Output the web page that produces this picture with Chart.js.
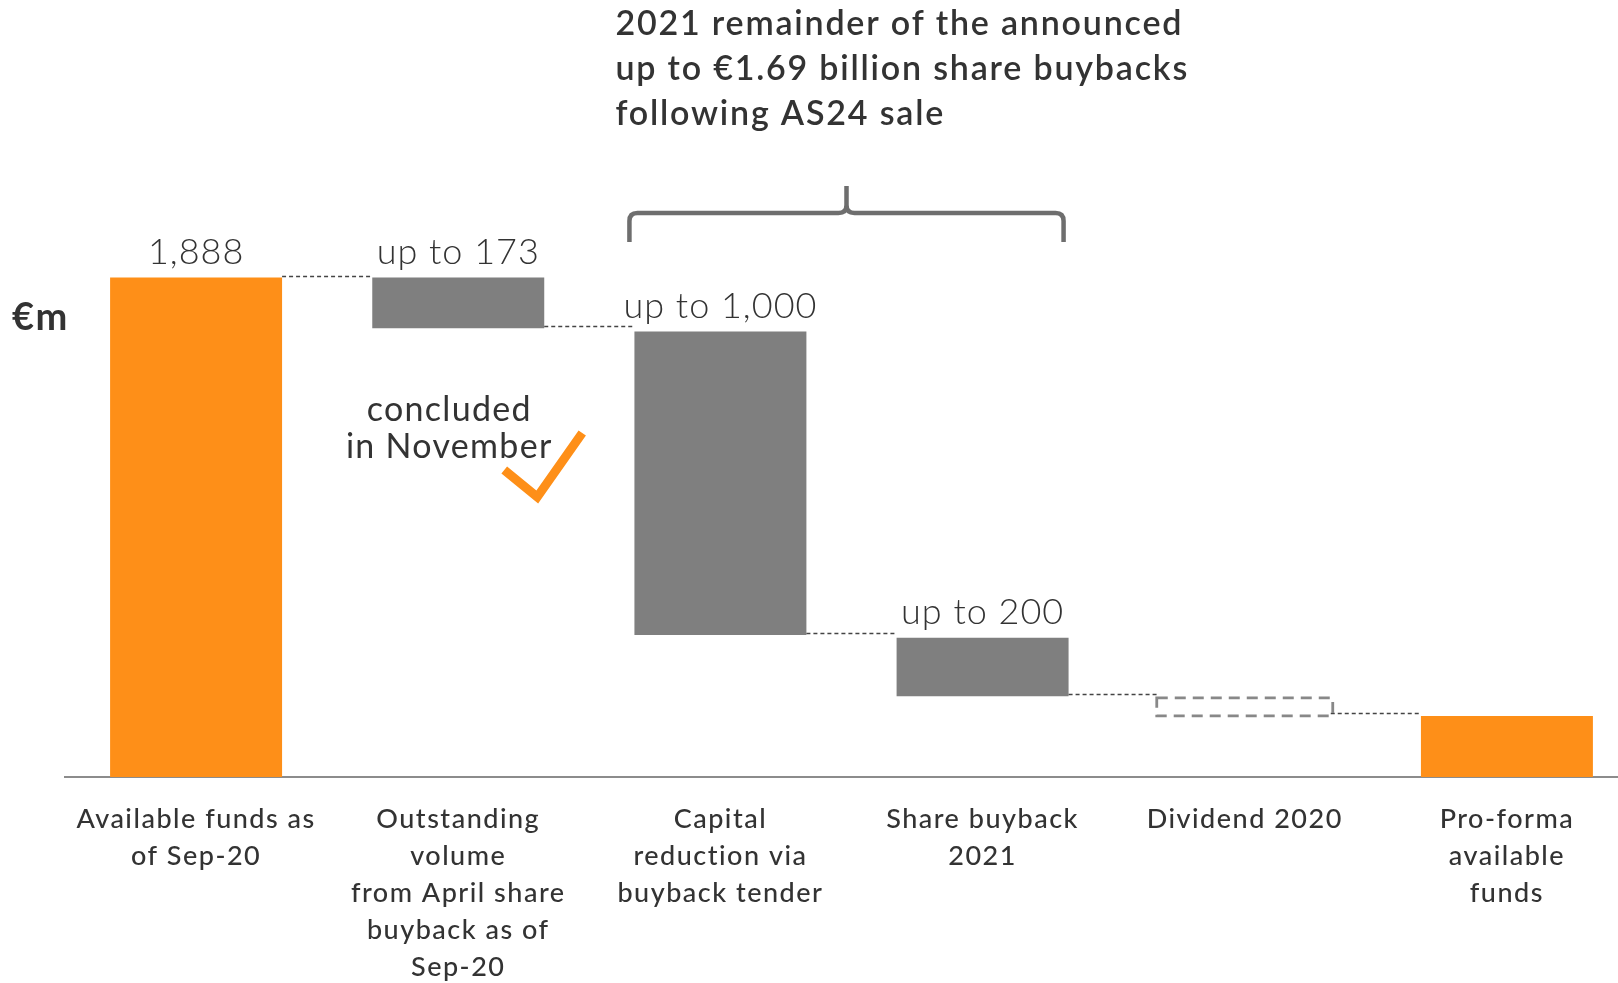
<!DOCTYPE html>
<html>
<head>
<meta charset="utf-8">
<script src="https://cdn.jsdelivr.net/npm/chart.js@4.4.1/dist/chart.umd.min.js"></script>
<style>
  html, body { margin: 0; padding: 0; background: #fff; overflow: hidden; }
  canvas { display: block; }
</style>
</head>
<body>
<canvas id="chart" width="1640" height="983"></canvas>
<script>
// categories (multi-line axis labels)
const categories = [
  ['Available funds as', 'of Sep-20'],
  ['Outstanding', 'volume', 'from April share', 'buyback as of', 'Sep-20'],
  ['Capital', 'reduction via', 'buyback tender'],
  ['Share buyback', '2021'],
  ['Dividend 2020'],
  ['Pro-forma', 'available', 'funds']
];
// bar tops / bottoms as drawn on the slide (it is not drawn to scale)
const barHigh = [1888, 1888, 1684, 526, 303, 231];
const barLow = [0, 1697, 537, 305, 235, 0];
const barKind = ['total', 'step', 'step', 'step', 'open', 'total'];
const valueLabels = ['1,888', 'up to 173', 'up to 1,000', 'up to 200', '', ''];
const titleLines = ['2021 remainder of the announced', 'up to €1.69 billion share buybacks', 'following AS24 sale'];
const noteLines = ['concluded', 'in November'];
const unitLabel = '€m';

const ORANGE = '#FE8F18';
const GREY = '#7F7F7F';
const TEXT = '#333333';

const barColors = barKind.map(k => k === 'total' ? ORANGE : (k === 'step' ? GREY : 'rgba(0,0,0,0)'));

const extras = {
  id: 'extras',
  beforeDraw(chart) {
    chart.ctx.letterSpacing = '1.5px';
  },
  afterDatasetsDraw(chart) {
    const ctx = chart.ctx;
    const y = chart.scales.y;
    const bars = chart.getDatasetMeta(0).data;
    const left = b => b.x - b.width / 2;
    const right = b => b.x + b.width / 2;

    ctx.save();
    // connectors between bars
    ctx.strokeStyle = '#444';
    ctx.lineWidth = 1.3;
    ctx.setLineDash([4, 3]);
    for (let i = 0; i < bars.length - 1; i++) {
      const level = barKind[i] === 'total' ? barHigh[i] : barLow[i];
      const py = Math.round(y.getPixelForValue(level)) - 1.5;
      ctx.beginPath();
      ctx.moveTo(right(bars[i]), py);
      ctx.lineTo(left(bars[i + 1]), py);
      ctx.stroke();
    }

    // open (dashed) bar
    bars.forEach((b, i) => {
      if (barKind[i] !== 'open') return;
      ctx.strokeStyle = '#888';
      ctx.lineWidth = 2.8;
      ctx.setLineDash([11, 7]);
      ctx.strokeRect(left(b) - 2, b.y + 1, b.width + 4, b.base - b.y);
    });
    ctx.setLineDash([]);

    // value labels
    ctx.fillStyle = TEXT;
    ctx.textAlign = 'center';
    ctx.textBaseline = 'middle';
    ctx.font = '300 36px Lato';
    ctx.letterSpacing = '1px';
    bars.forEach((b, i) => {
      if (valueLabels[i]) ctx.fillText(valueLabels[i], b.x, b.y - 25);
    });

    // brace over the 2021 buybacks
    const b3 = bars[2], b4 = bars[3];
    const bx0 = left(b3) - 5, bx1 = right(b4) - 5, bm = (bx0 + bx1) / 2;
    const by = 213, bLow = 242, bTop = 186, r = 8;
    ctx.strokeStyle = '#6e6e6e';
    ctx.lineWidth = 4.5;
    ctx.lineCap = 'butt';
    ctx.beginPath();
    ctx.moveTo(bx0, bLow);
    ctx.lineTo(bx0, by + r);
    ctx.quadraticCurveTo(bx0, by, bx0 + r, by);
    ctx.lineTo(bm - r, by);
    ctx.quadraticCurveTo(bm, by, bm, by - r);
    ctx.lineTo(bm, bTop);
    ctx.moveTo(bm, by - r);
    ctx.quadraticCurveTo(bm, by, bm + r, by);
    ctx.lineTo(bx1 - r, by);
    ctx.quadraticCurveTo(bx1, by, bx1, by + r);
    ctx.lineTo(bx1, bLow);
    ctx.stroke();

    // title
    ctx.textAlign = 'left';
    ctx.textBaseline = 'middle';
    ctx.font = '600 34px Lato';
    ctx.letterSpacing = '1.8px';
    titleLines.forEach((t, i) => ctx.fillText(t, left(b3) - 19, 24 + i * 45));

    // note under second bar
    const b2 = bars[1];
    ctx.textAlign = 'center';
    ctx.textBaseline = 'alphabetic';
    ctx.font = '400 34px Lato';
    ctx.letterSpacing = '1.3px';
    noteLines.forEach((t, i) => ctx.fillText(t, b2.x - 9, 421 + i * 37));

    // check mark
    const cx = right(b2);
    ctx.strokeStyle = ORANGE;
    ctx.lineWidth = 9;
    ctx.lineJoin = 'miter';
    ctx.beginPath();
    ctx.moveTo(cx - 40, 470);
    ctx.lineTo(cx - 7, 497);
    ctx.lineTo(cx + 38, 433);
    ctx.stroke();

    // unit
    ctx.fillStyle = TEXT;
    ctx.textAlign = 'left';
    ctx.textBaseline = 'middle';
    ctx.font = '700 38px Lato';
    ctx.letterSpacing = '1.5px';
    ctx.fillText(unitLabel, 12, 318);
    ctx.restore();
  }
};

new Chart(document.getElementById('chart'), {
  type: 'bar',
  data: {
    labels: categories,
    datasets: [{
      data: barLow.map((lo, i) => [lo, barHigh[i]]),
      backgroundColor: barColors,
      borderWidth: 0,
      borderSkipped: false,
      categoryPercentage: 0.656,
      barPercentage: 1
    }]
  },
  options: {
    responsive: false,
    animation: false,
    events: [],
    layout: { padding: { top: 248, left: 65, right: 2, bottom: 0 } },
    plugins: { legend: { display: false }, tooltip: { enabled: false } },
    scales: {
      x: {
        grid: { display: true, drawOnChartArea: false, drawTicks: false, color: 'rgba(0,0,0,0)' },
        border: { display: true, color: '#8c8c8c', width: 2 },
        ticks: {
          color: TEXT,
          font: { family: 'Lato', size: 27, weight: '500', lineHeight: 1.37 },
          padding: 24,
          autoSkip: false,
          maxRotation: 0
        },
        afterFit(scale) { scale.height = 206; }
      },
      y: { display: false, min: 0, max: 2000 }
    }
  },
  plugins: [extras]
});
</script>
</body>
</html>
